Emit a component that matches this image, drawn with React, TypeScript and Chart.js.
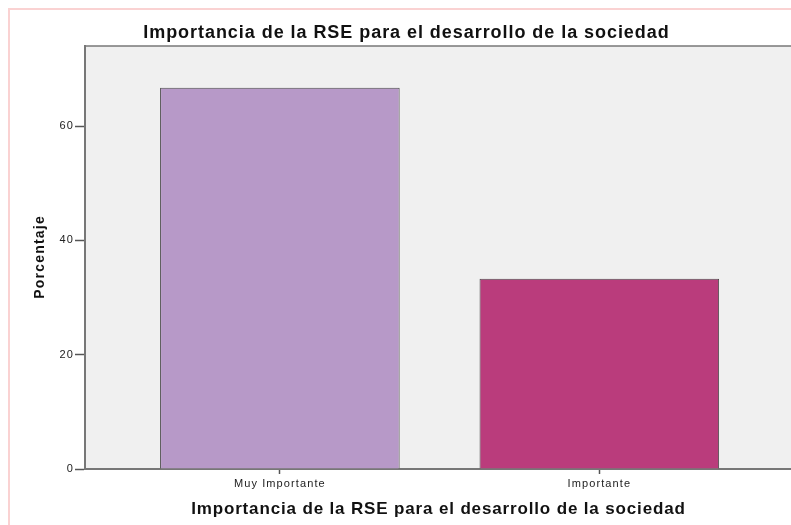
import React, { useEffect, useRef } from "react";
import { Chart, registerables } from "chart.js";

Chart.register(...registerables);

const chartTitle = "Importancia de la RSE para el desarrollo de la sociedad";
const xAxisTitle = "Importancia de la RSE para el desarrollo de la sociedad";
const yAxisTitle = "Porcentaje";
const categories = ["Muy Importante", "Importante"];
const percentages = [66.7, 33.3];
const barColors = ["#B799C8", "#BA3C7C"];
const yTicks = [0, 20, 40, 60];

const FONT = "'Liberation Sans', Arial, sans-serif";

function drawText(ctx: any, text: string, x: number, y: number, font: string, spacing: number, rotate = 0) {
  ctx.save();
  ctx.font = font;
  ctx.fillStyle = "#111111";
  (ctx as any).letterSpacing = spacing + "px";
  ctx.textAlign = "center";
  ctx.textBaseline = "middle";
  ctx.translate(x, y);
  if (rotate) ctx.rotate(rotate);
  ctx.fillText(text, spacing / 2, 0);
  ctx.restore();
}

const plotFrame = {
  id: "plotFrame",
  beforeLayout(chart: any) {
    chart.ctx.letterSpacing = "1.1px";
  },
  beforeDraw(chart: any) {
    const { ctx, chartArea } = chart;
    ctx.letterSpacing = "1.1px";
    ctx.save();
    ctx.fillStyle = "#F0F0F0";
    ctx.fillRect(chartArea.left, chartArea.top, chartArea.right - chartArea.left, chartArea.bottom - chartArea.top);
    ctx.restore();
  },
  afterDraw(chart: any) {
    const { ctx, chartArea } = chart;
    ctx.save();
    ctx.strokeStyle = "#777777";
    ctx.lineWidth = 1.5;
    ctx.beginPath();
    ctx.moveTo(chartArea.left, chartArea.top);
    ctx.lineTo(chartArea.right, chartArea.top);
    ctx.stroke();
    ctx.restore();
    const midX = (chartArea.left + chartArea.right) / 2;
    const midY = (chartArea.top + chartArea.bottom) / 2;
    drawText(ctx, chartTitle, 406, 33, `bold 18px ${FONT}`, 0.95);
    drawText(ctx, xAxisTitle, midX, 509, `bold 17px ${FONT}`, 0.85);
    drawText(ctx, yAxisTitle, 40, midY, `bold 14px ${FONT}`, 1.2, -Math.PI / 2);
  },
};

export default function App() {
  const ref = useRef<HTMLCanvasElement | null>(null);

  useEffect(() => {
    if (!ref.current) return;
    const chart = new Chart(ref.current, {
      type: "bar",
      data: {
        datasets: [
          {
            data: categories.map((c, i) => ({ x: i + 1, y: percentages[i] })),
            backgroundColor: barColors,
            borderColor: "#4A4A4A",
            borderWidth: 1,
            categoryPercentage: 1,
            barPercentage: 0.75,
          },
        ],
      },
      options: {
        responsive: false,
        animation: false,
        layout: { padding: { left: 21, right: 0, top: 46, bottom: 0 } },
        plugins: {
          legend: { display: false },
          tooltip: { enabled: false },
          title: { display: false },
        },
        scales: {
          x: {
            type: "linear",
            min: 0.39,
            max: 2.6,
            offset: false,
            afterBuildTicks: (scale: any) => {
              scale.ticks = categories.map((c, i) => ({ value: i + 1 }));
            },
            afterFit: (scale: any) => {
              scale.height = 56;
            },
            ticks: {
              callback: (v: any) => categories[Math.round(v) - 1] ?? "",
              color: "#222222",
              font: { family: FONT, size: 11 },
              padding: 3,
              maxRotation: 0,
              autoSkip: false,
            },
            grid: {
              offset: false,
              drawOnChartArea: false,
              drawTicks: true,
              tickLength: 5,
              color: "#555555",
              tickWidth: 1.5,
            },
            border: { display: true, color: "#777777", width: 2 },
            title: { display: false },
          },
          y: {
            min: 0,
            max: 74,
            afterBuildTicks: (scale: any) => {
              scale.ticks = yTicks.map((v) => ({ value: v }));
            },
            afterFit: (scale: any) => {
              scale.width = 64;
            },
            ticks: {
              color: "#222222",
              font: { family: FONT, size: 11 },
              padding: 1,
            },
            grid: {
              drawOnChartArea: false,
              drawTicks: true,
              tickLength: 10,
              color: "#555555",
              tickWidth: 1.5,
            },
            border: { display: true, color: "#777777", width: 2 },
            title: { display: false },
          },
        },
      },
      plugins: [plotFrame],
    });
    return () => chart.destroy();
  }, []);

  return (
    <div style={{ position: "fixed", left: 0, top: 0, width: 791, height: 525, overflow: "hidden", background: "#FFFFFF" }}>
      <canvas ref={ref} width={791} height={525} style={{ display: "block" }} />
      <div
        style={{
          position: "absolute",
          left: 8,
          top: 8,
          width: 900,
          height: 700,
          borderTop: "2px solid #FAD2D2",
          borderLeft: "2px solid #FAD2D2",
          pointerEvents: "none",
        }}
      />
    </div>
  );
}
